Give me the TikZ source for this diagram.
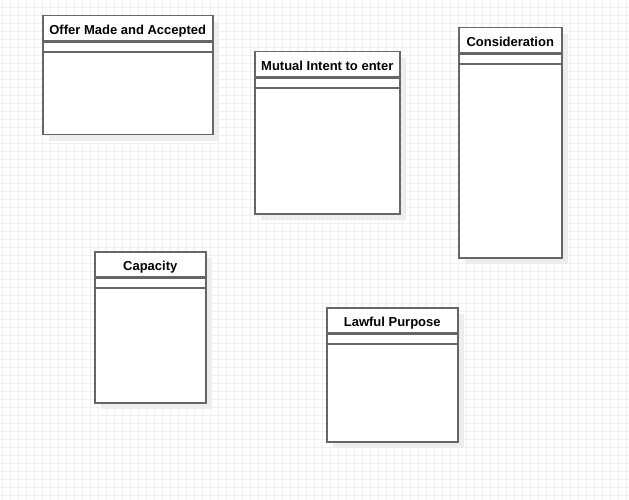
\documentclass[tikz,border=0pt]{standalone}
\usepackage{fontspec}
\setmainfont{Liberation Sans}
\usetikzlibrary{positioning,shadows}
\begin{document}
\begin{tikzpicture}[x=1pt,y=-1pt,
 gridline/.style={draw=black!6,line width=0.8pt},
 cls/.style={draw=black!60,fill=white,line width=1.5pt,inner sep=0pt,anchor=north west,
  drop shadow={shadow xshift=6pt,shadow yshift=-6pt,fill=black!7,opacity=1}},
 head/.style={draw=black!60,line width=1.3pt,inner sep=0pt,minimum height=25pt,
  text height=12pt,text depth=0pt,font=\fontsize{13}{15}\selectfont\bfseries},
 row/.style={draw=black!60,line width=1.3pt,inner sep=0pt,minimum height=10pt}]
\useasboundingbox[fill=white] (0,0) rectangle (629,500);
\foreach \i in {0,...,78} \draw[gridline] (2+8*\i,0) -- (2+8*\i,500);
\foreach \j in {0,...,61} \draw[gridline] (0,7+8*\j) -- (629,7+8*\j);

\node[cls,minimum width=170pt,minimum height=119pt] (offer) at (42,15) {};
\node[head,minimum width=170pt,below=0pt of offer.north] (offer1) {Offer Made and Accepted};
\node[row,minimum width=170pt,below=0pt of offer1] (offer2) {};

\node[cls,minimum width=145pt,minimum height=162pt] (intent) at (254,51) {};
\node[head,minimum width=145pt,below=0pt of intent.north] (intent1) {Mutual Intent to enter};
\node[row,minimum width=145pt,below=0pt of intent1] (intent2) {};

\node[cls,minimum width=103pt,minimum height=230pt] (consid) at (458,27) {};
\node[head,minimum width=103pt,below=0pt of consid.north] (consid1) {Consideration};
\node[row,minimum width=103pt,below=0pt of consid1] (consid2) {};

\node[cls,minimum width=111pt,minimum height=151pt] (cap) at (94,251) {};
\node[head,minimum width=111pt,below=0pt of cap.north] (cap1) {Capacity};
\node[row,minimum width=111pt,below=0pt of cap1] (cap2) {};

\node[cls,minimum width=131pt,minimum height=134pt] (lawful) at (326,307) {};
\node[head,minimum width=131pt,below=0pt of lawful.north] (lawful1) {Lawful Purpose};
\node[row,minimum width=131pt,below=0pt of lawful1] (lawful2) {};
\end{tikzpicture}
\end{document}
